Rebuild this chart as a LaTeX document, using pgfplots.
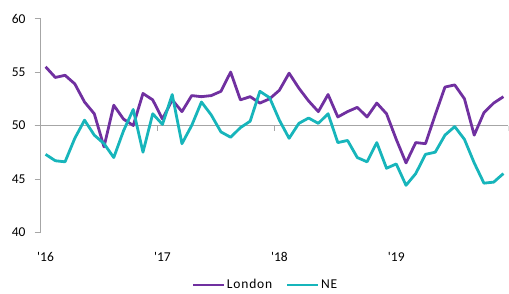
\documentclass[border=0pt]{standalone}
\usepackage{pgfplots}
\pgfplotsset{compat=1.18}
\usepackage{fontspec}
\setmainfont{Carlito}
\newfontfamily\legfont[LetterSpace=6]{Carlito}
\definecolor{lon}{HTML}{7030A0}
\definecolor{ne}{HTML}{17B5BB}
\definecolor{axgray}{HTML}{A6A6A6}
\begin{document}
\begin{tikzpicture}
\useasboundingbox (0,0) rectangle (509pt,293pt);
\begin{axis}[
  at={(40.7pt,60.7pt)}, anchor=south west,
  scale only axis, width=467.6pt, height=213.6pt,
  xmin=-0.5, xmax=47.5, ymin=40, ymax=60,
  axis y line*=left, axis x line*=bottom,
  y axis line style={draw=axgray, line width=0.8pt},
  x axis line style={draw=none},
  ytick={40,45,50,55,60},
  xtick={0,12,24,36},
  xticklabels={\textquotesingle16,\textquotesingle17,\textquotesingle18,\textquotesingle19},
  x tick style={draw=none},
  y tick style={draw=axgray, line width=0.8pt},
  tick align=outside, major tick length=6pt,
  font=\fontsize{13.5}{15}\selectfont,
  /pgf/number format/assume math mode=true,
  yticklabel style={anchor=east, inner sep=0pt, xshift=-9pt},
  xticklabel style={anchor=north, inner sep=0pt, yshift=-14pt},
  extra y ticks={50}, extra y tick labels={},
  extra y tick style={grid=major, major grid style={draw=axgray, line width=0.8pt}, tick style={draw=none}},
  legend columns=2,
  legend style={draw=none, fill=none, at={(0.48,-0.247)}, anchor=center,
    font=\fontsize{13.5}{15}\legfont, inner sep=0pt,
    /tikz/every even column/.append style={column sep=12pt},
    nodes={inner sep=1.5pt}},
  legend image code/.code={\draw[#1, line width=2.8pt] (0pt,0pt) -- (31pt,0pt);},
  every axis plot/.append style={line width=2.8pt, line join=round, mark=none},
]
\pgfplotsinvokeforeach{11.5,23.5,35.5,47.5}{
  \draw[axgray, line width=0.8pt] (axis cs:#1,50) -- ++(0pt,-5pt);
}
\addplot[lon] coordinates {
(0,55.5)(1,54.5)(2,54.7)(3,53.9)(4,52.2)(5,51.1)(6,48.0)(7,51.9)(8,50.6)(9,50.0)(10,53.0)(11,52.4)
(12,50.6)(13,52.4)(14,51.3)(15,52.8)(16,52.7)(17,52.8)(18,53.2)(19,55.0)(20,52.4)(21,52.7)(22,52.1)(23,52.5)
(24,53.3)(25,54.9)(26,53.5)(27,52.3)(28,51.3)(29,52.9)(30,50.8)(31,51.3)(32,51.7)(33,50.8)(34,52.1)(35,51.1)
(36,48.7)(37,46.5)(38,48.4)(39,48.3)(40,51.0)(41,53.6)(42,53.8)(43,52.5)(44,49.1)(45,51.2)(46,52.1)(47,52.7)
};
\addlegendentry{London}
\addplot[ne] coordinates {
(0,47.3)(1,46.7)(2,46.6)(3,48.8)(4,50.5)(5,49.1)(6,48.3)(7,47.0)(8,49.5)(9,51.5)(10,47.5)(11,51.1)
(12,50.1)(13,52.9)(14,48.3)(15,50.0)(16,52.2)(17,51.0)(18,49.4)(19,48.9)(20,49.8)(21,50.4)(22,53.2)(23,52.6)
(24,50.5)(25,48.8)(26,50.2)(27,50.7)(28,50.2)(29,51.1)(30,48.4)(31,48.6)(32,47.0)(33,46.6)(34,48.4)(35,46.0)
(36,46.4)(37,44.4)(38,45.5)(39,47.3)(40,47.5)(41,49.1)(42,49.9)(43,48.7)(44,46.5)(45,44.6)(46,44.7)(47,45.5)
};
\addlegendentry{NE}
\end{axis}
\end{tikzpicture}
\end{document}
